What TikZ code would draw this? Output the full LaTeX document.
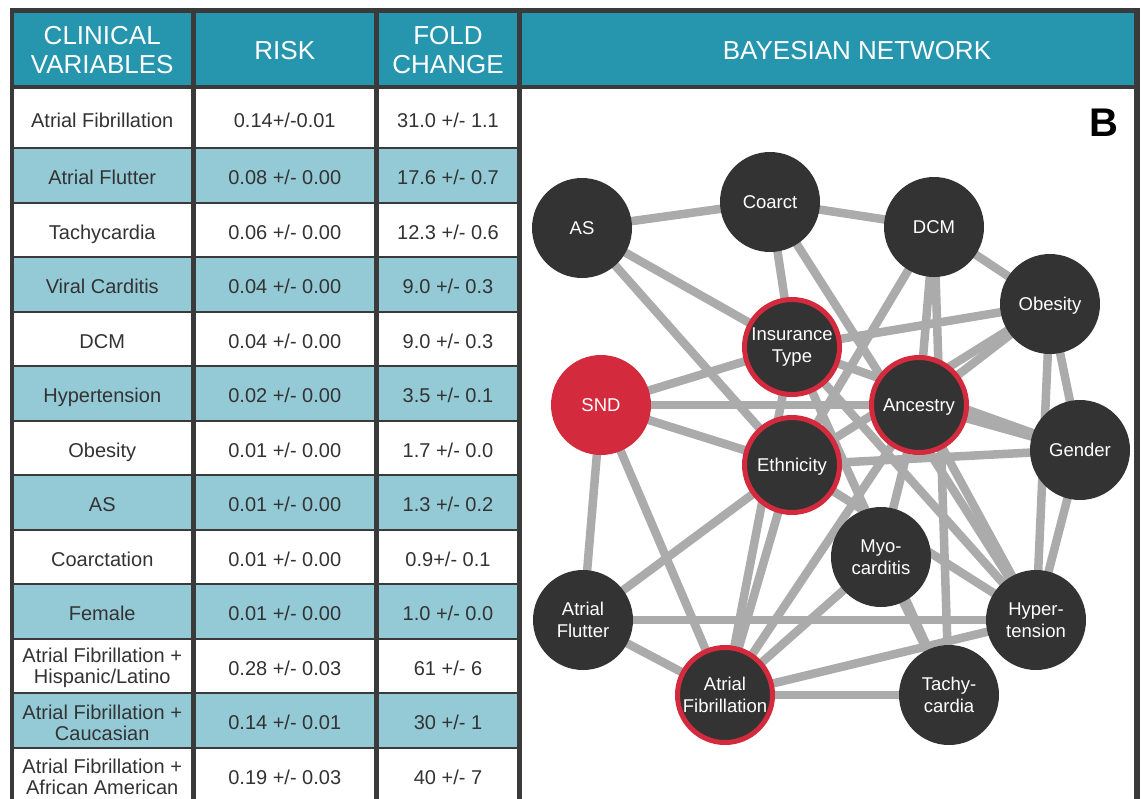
\documentclass[tikz,border=0pt]{standalone}
\usepackage{fontspec}
\setmainfont{Liberation Sans}
\pgfdeclarelayer{back}
\pgfdeclarelayer{mid}
\pgfsetlayers{back,mid,main}
\definecolor{framegray}{HTML}{3A3A3A}
\definecolor{hdrteal}{HTML}{2696AF}
\definecolor{rowteal}{HTML}{94CAD6}
\definecolor{celltext}{HTML}{333333}
\definecolor{nodedark}{HTML}{333333}
\definecolor{ringred}{HTML}{D42A3E}
\definecolor{edgegray}{HTML}{ABABAB}
\tikzset{
 hdrtext/.style={text=white,font=\fontsize{26bp}{29bp}\selectfont,inner sep=0pt},
 hone/.style={hdrtext,text height=18.6bp,text depth=0pt},
 htwo/.style={hdrtext,align=center},
 celltxt/.style={text=celltext,font=\fontsize{20bp}{21bp}\selectfont,inner sep=0pt},
 cone/.style={celltxt,text height=14.3bp,text depth=0pt,yshift=-2bp},
 ctwo/.style={celltxt,align=center,yshift=-2bp},
 netnode/.style={circle,fill=nodedark,minimum size=100bp,inner sep=0pt,text=white,font=\fontsize{18.5bp}{21.5bp}\selectfont},
 nsingle/.style={netnode,text height=13.2bp,text depth=0pt},
 ndouble/.style={netnode,align=center},
 redring/.style={draw=ringred,line width=5bp,minimum size=95bp},
 redfill/.style={fill=ringred},
 edgeline/.style={draw=edgegray,line width=8.5bp},
}
\newcommand\tabrowx[8]{%
 \fill[#4] (14,#2) rectangle (190.5,#3);
 \fill[#4] (196,#2) rectangle (373.5,#3);
 \fill[#4] (379,#2) rectangle (517,#3);
 \node[#5] (#1a) at (102.25,{(#2+#3)/2}) {#6};
 \node[cone] (#1b) at (284.75,{(#2+#3)/2}) {#7};
 \node[cone] (#1c) at (448,{(#2+#3)/2}) {#8};
}
\begin{document}
\begin{tikzpicture}[x=1bp,y=-1bp]
\useasboundingbox (0,0) rectangle (1142,799);
\begin{pgfonlayer}{back}
\fill[white] (0,0) rectangle (1142,799);
\fill[framegray] (10,8) rectangle (1140,799);
\fill[hdrteal] (14,13.3) rectangle (190.5,85);
\fill[hdrteal] (196,13.3) rectangle (373.5,85);
\fill[hdrteal] (379,13.3) rectangle (517,85);
\fill[hdrteal] (522,13.3) rectangle (1134,85);
\fill[white] (522,89.3) rectangle (1134,799);
\node[htwo] (h1) at (102.25,50) {CLINICAL\\VARIABLES};
\node[hone] (h2) at (284.75,50.7) {RISK};
\node[htwo] (h3) at (448,50) {FOLD\\CHANGE};
\node[hone] (h4) at (857,50.7) {BAYESIAN NETWORK};
\tabrowx{r1}{89.3}{146.7}{white}{cone}{Atrial Fibrillation}{0.14+/-0.01}{31.0 +/- 1.1}
\tabrowx{r2}{149.3}{201.6}{rowteal}{cone}{Atrial Flutter}{0.08 +/- 0.00}{17.6 +/- 0.7}
\tabrowx{r3}{203.8}{256.1}{white}{cone}{Tachycardia}{0.06 +/- 0.00}{12.3 +/- 0.6}
\tabrowx{r4}{258.3}{310.6}{rowteal}{cone}{Viral Carditis}{0.04 +/- 0.00}{9.0 +/- 0.3}
\tabrowx{r5}{312.8}{365.1}{white}{cone}{DCM}{0.04 +/- 0.00}{9.0 +/- 0.3}
\tabrowx{r6}{367.3}{419.6}{rowteal}{cone}{Hypertension}{0.02 +/- 0.00}{3.5 +/- 0.1}
\tabrowx{r7}{421.8}{474.1}{white}{cone}{Obesity}{0.01 +/- 0.00}{1.7 +/- 0.0}
\tabrowx{r8}{476.3}{528.6}{rowteal}{cone}{AS}{0.01 +/- 0.00}{1.3 +/- 0.2}
\tabrowx{r9}{530.8}{583.1}{white}{cone}{Coarctation}{0.01 +/- 0.00}{0.9+/- 0.1}
\tabrowx{r10}{585.3}{637.6}{rowteal}{cone}{Female}{0.01 +/- 0.00}{1.0 +/- 0.0}
\tabrowx{r11}{639.8}{692.1}{white}{ctwo}{Atrial Fibrillation +\\Hispanic/Latino}{0.28 +/- 0.03}{61 +/- 6}
\tabrowx{r12}{694.3}{746.6}{rowteal}{ctwo}{Atrial Fibrillation +\\Caucasian}{0.14 +/- 0.01}{30 +/- 1}
\tabrowx{r13}{748.8}{801.1}{white}{ctwo}{Atrial Fibrillation +\\African American}{0.19 +/- 0.03}{40 +/- 7}
\end{pgfonlayer}
\node[font=\bfseries\fontsize{40bp}{40bp}\selectfont,inner sep=0pt,text height=28.6bp,text depth=0pt] (blabel) at (1104,122) {B};
\node[nsingle] (AS) at (582,228) {AS};
\node[nsingle] (Co) at (770,202) {Coarct};
\node[nsingle] (DCM) at (934,227) {DCM};
\node[nsingle] (Ob) at (1050,304) {Obesity};
\node[ndouble,redring] (Ins) at (792,347) {Insurance\\Type};
\node[nsingle,redfill] (SND) at (601,405) {SND};
\node[nsingle,redring] (Anc) at (919,405) {Ancestry};
\node[nsingle] (Gen) at (1080,450) {Gender};
\node[nsingle,redring] (Eth) at (792,465) {Ethnicity};
\node[ndouble] (Myo) at (881,557) {Myo-\\carditis};
\node[ndouble] (AFl) at (583,620) {Atrial\\Flutter};
\node[ndouble] (Hyp) at (1036,620) {Hyper-\\tension};
\node[ndouble,redring] (AFib) at (725,695) {Atrial\\Fibrillation};
\node[ndouble] (Tac) at (949,695) {Tachy-\\cardia};
\begin{pgfonlayer}{mid}
\foreach \a/\b in {AS/Co, Co/DCM, DCM/Ob, AS/Ins, AS/Eth, Co/Ins, Co/Hyp, SND/Ins, SND/Anc, SND/Eth, SND/AFl, SND/AFib, AFl/Eth, AFl/Hyp, AFl/AFib, AFib/Tac, AFib/Hyp, AFib/Myo, AFib/Eth, AFib/Ins, AFib/Anc, DCM/Eth, DCM/Anc, DCM/Tac, Ins/Ob, Anc/Ob, Eth/Ob, Eth/Gen, Anc/Gen, Ins/Gen, Ob/Gen, Ob/Hyp, Gen/Hyp, Ins/Hyp, Eth/Hyp, Myo/Tac, Ins/Tac, Anc/Myo, Anc/Hyp}
  \draw[edgeline] (\a.center) -- (\b.center);
\end{pgfonlayer}
\end{tikzpicture}
\end{document}
